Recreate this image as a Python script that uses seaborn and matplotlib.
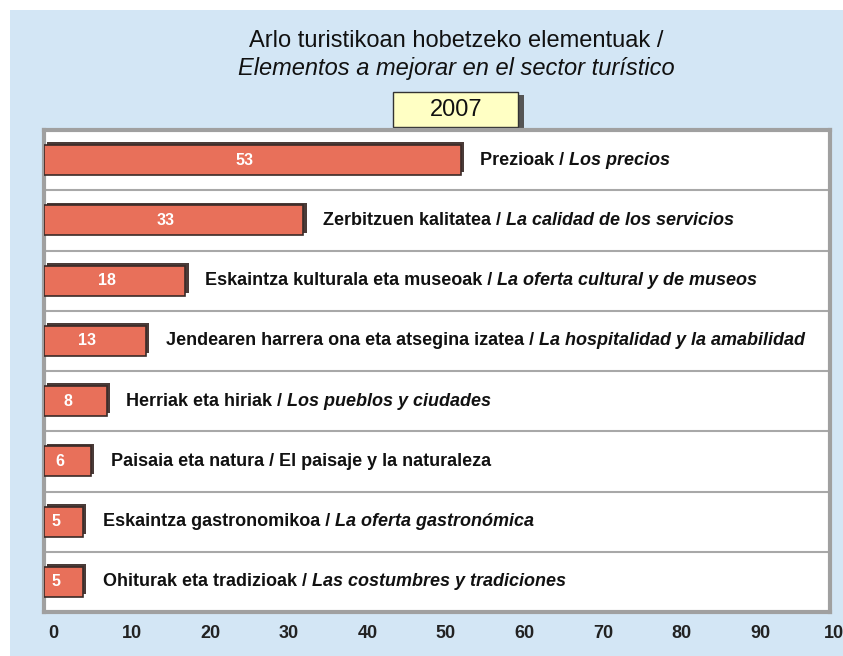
import matplotlib
matplotlib.use("Agg")
from matplotlib import pyplot as plt
from matplotlib.patches import Rectangle
import matplotlib.transforms as mtransforms
import seaborn as sns
import pandas as pd

labels_eu = ["Prezioak", "Zerbitzuen kalitatea", "Eskaintza kulturala eta museoak",
             "Jendearen harrera ona eta atsegina izatea", "Herriak eta hiriak",
             "Paisaia eta natura", "Eskaintza gastronomikoa", "Ohiturak eta tradizioak"]
labels_es = ["Los precios", "La calidad de los servicios", "La oferta cultural y de museos",
             "La hospitalidad y la amabilidad", "Los pueblos y ciudades",
             "El paisaje y la naturaleza", "La oferta gastronómica",
             "Las costumbres y tradiciones"]
# the Paisaia row is written without italics in the original
es_italic = [True, True, True, True, True, False, True, True]
values = [53, 33, 18, 13, 8, 6, 5, 5]
xticks = [0, 10, 20, 30, 40, 50, 60, 70, 80, 90, 100]
year = "2007"
title_eu = "Arlo turistikoan hobetzeko elementuak /"
title_es = "Elementos a mejorar en el sector turístico"


def main():
    sns.set_style("white")
    plt.rcParams['font.family'] = ['Liberation Sans', 'DejaVu Sans']

    df = pd.DataFrame({"cat": labels_eu, "val": values})

    fig = plt.figure(figsize=(8.43, 6.56), dpi=100, facecolor="white")
    # light blue panel behind everything
    bg = fig.add_axes([10 / 843, 0, 833 / 843, 1 - 10 / 656], zorder=-10)
    bg.set_facecolor("#d3e6f5")
    bg.set_xticks([])
    bg.set_yticks([])
    for s in bg.spines.values():
        s.set_visible(False)

    ax = fig.add_axes([44 / 843, 44 / 656, 786 / 843, 482 / 656], zorder=5)
    ax.set_facecolor("white")

    sns.barplot(data=df, x="val", y="cat", orient="h", color="#e8705a", width=0.5,
                edgecolor="#3b2b28", linewidth=1.2, saturation=1, ax=ax, zorder=3)

    # dark depth on bars (shadow offset from the real bars)
    for p in list(ax.patches):
        x0, y0 = p.get_x(), p.get_y()
        w, h = p.get_width(), p.get_height()
        sh = Rectangle((x0 + 0.4, y0 - 0.045), w, h, facecolor="#4a3b38",
                       edgecolor="none", zorder=2)
        ax.add_patch(sh)

    ax.set_xlim(0, 100)
    ax.set_ylim(len(values) - 0.5, -0.5)
    ax.set_xlabel("")
    ax.set_ylabel("")
    ax.set_yticks([])
    ax.set_xticks(xticks)
    ax.set_xticklabels([str(t) for t in xticks], fontsize=13, fontweight="bold", color="#222222")
    ax.tick_params(axis="x", length=0, pad=9)
    shift = mtransforms.ScaledTranslation(9 / 100, 0, fig.dpi_scale_trans)
    for lab in ax.get_xticklabels():
        lab.set_transform(lab.get_transform() + shift)

    # separators between categories
    for i in range(1, len(values)):
        ax.axhline(i - 0.5, color="#a8a8a8", lw=1.5, zorder=1)

    for side in ["left", "bottom", "top", "right"]:
        ax.spines[side].set_color("#a0a0a0")
        ax.spines[side].set_linewidth(3)

    for i, v in enumerate(values):
        ax.text(v / 2 - 1, i, str(v), ha="center", va="center", color="white",
                fontsize=11.5, fontweight="bold", zorder=4)
        t1 = ax.annotate(labels_eu[i] + " / ", xy=(v, i), xytext=(14, 0),
                         textcoords="offset points", ha="left", va="center",
                         fontsize=13, fontweight="bold", color="#111111")
        ax.annotate(labels_es[i], xy=(1, 0.5), xycoords=t1, ha="left", va="center",
                    fontsize=13, fontweight="bold", color="#111111",
                    style="italic" if es_italic[i] else "normal")

    fig.text(456 / 843, 1 - 41 / 656, title_eu, ha="center", va="center",
             fontsize=17, color="#111111")
    fig.text(456 / 843, 1 - 68 / 656, title_es, ha="center", va="center",
             fontsize=17, style="italic", color="#111111")

    # year box
    fig.patches.append(Rectangle((397 / 843, 1 - 130 / 656), 127 / 843, 35 / 656,
                                 transform=fig.transFigure, facecolor="#555555",
                                 edgecolor="none", zorder=1))
    fig.patches.append(Rectangle((393 / 843, 1 - 127 / 656), 125 / 843, 35 / 656,
                                 transform=fig.transFigure, facecolor="#ffffc4",
                                 edgecolor="#333333", lw=1, zorder=2))
    fig.text(456 / 843, 1 - 110 / 656, year, ha="center", va="center", fontsize=17,
             color="#111111", zorder=3)

    fig.savefig("out.png", dpi=100, facecolor=fig.get_facecolor())


if __name__ == "__main__":
    main()
